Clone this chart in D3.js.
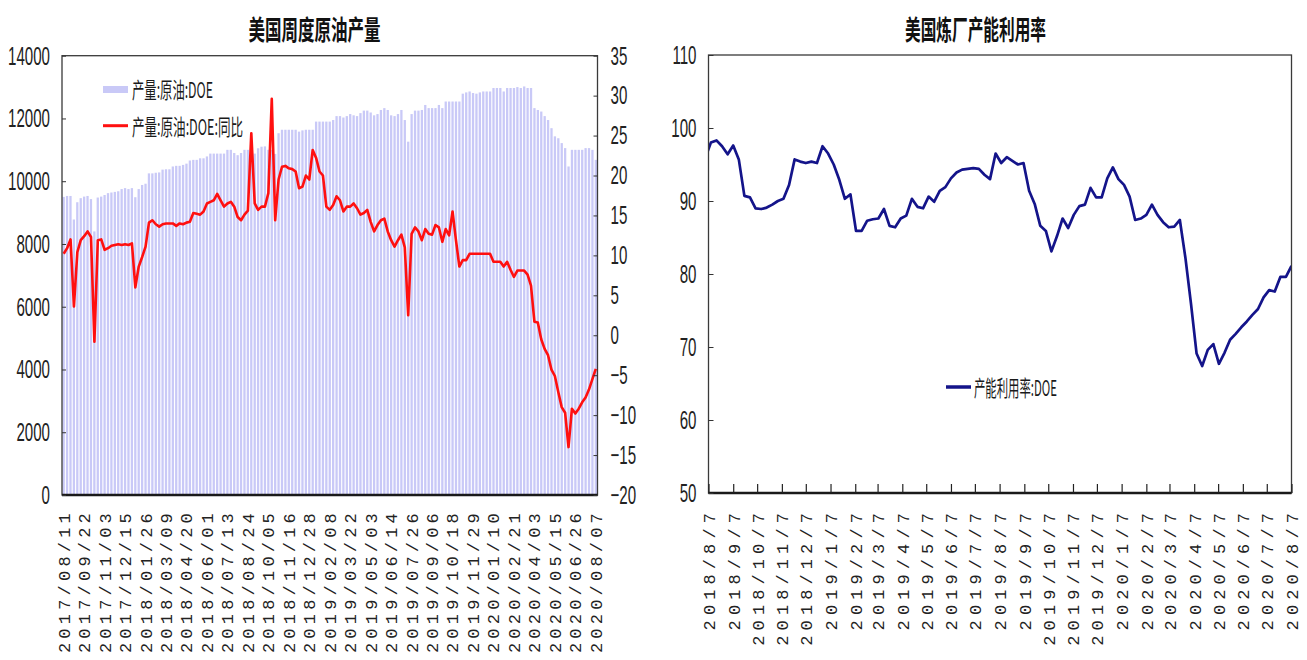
<!DOCTYPE html>
<html>
<head>
<meta charset="utf-8">
<script src="https://cdn.jsdelivr.net/npm/d3@7"></script>
<style>
  body { margin: 0; background: #fff; }
  svg { display: block; }
</style>
</head>
<body>
<svg id="chart" width="1307" height="660"></svg>
<script>
// ---- US weekly crude oil production (thousand b/d), weeks from 2017/08/11 ----
const crudeStart = new Date(2017, 7, 11);
const crudeOutput = [
  9500, 9530, 9530, 8780, 9330, 9460, 9510, 9530, 9430, 8400,
  9480, 9510, 9560, 9620, 9640, 9660, 9680, 9750, 9780, 9750,
  9780, 9490, 9750, 9880, 9920, 10250, 10250, 10270, 10280, 10370,
  10380, 10380, 10470, 10490, 10490, 10520, 10560, 10660, 10680, 10680,
  10730, 10730, 10790, 10880, 10880, 10880, 10880, 10880, 11000, 11000,
  10900, 10830, 10900, 11000, 11000, 11000, 10880, 11050, 11100, 11110,
  11000, 11000, 10870, 11530, 11640, 11640, 11640, 11640, 11640, 11580,
  11620, 11640, 11640, 11640, 11900, 11900, 11900, 11900, 11900, 11950,
  12075, 12075, 12030, 12075, 12140, 12100, 12075, 12170, 12250, 12250,
  12190, 12100, 12140, 12270, 12330, 12270, 12100, 12075, 12140, 12270,
  11950, 11260, 12140, 12250, 12250, 12270, 12430, 12330, 12330, 12330,
  12430, 12330, 12540, 12540, 12540, 12540, 12540, 12790, 12830, 12860,
  12810, 12790, 12830, 12860, 12860, 12860, 12970, 12970, 12970, 12860,
  12970, 12970, 12970, 13000, 12970, 13020, 12970, 12970, 12330, 12270,
  12220, 12075, 11950, 11690, 11430, 11370, 11215, 11055, 10470, 11000,
  11000, 11000, 11000, 11055, 11055, 11000, 10680
];
// year-on-year change of the same series (%)
const crudeYoY = [
  10.2, 10.9, 12.0, 3.6, 10.4, 11.9, 12.4, 13.0, 12.3, -0.8,
  11.9, 12.0, 10.7, 10.9, 11.2, 11.3, 11.4, 11.3, 11.4, 11.3,
  11.5, 6.0, 8.6, 9.8, 11.1, 14.1, 14.4, 13.9, 13.6, 13.9,
  14.0, 14.0, 14.0, 13.7, 14.0, 13.9, 14.1, 14.2, 15.3, 15.2,
  15.1, 15.5, 16.5, 16.7, 16.9, 17.7, 16.9, 16.1, 16.5, 16.7,
  16.1, 14.8, 14.4, 15.1, 15.6, 25.3, 16.5, 15.7, 16.1, 16.1,
  17.8, 29.6, 14.4, 19.5, 21.1, 21.2, 20.9, 20.8, 20.5, 18.4,
  18.6, 20.0, 19.5, 23.2, 22.2, 20.5, 20.0, 16.1, 15.7, 16.3,
  17.4, 16.9, 15.5, 16.1, 16.1, 16.5, 15.9, 15.1, 15.3, 15.7,
  14.2, 13.0, 13.8, 14.4, 14.6, 13.0, 11.9, 11.1, 11.9, 12.6,
  11.0, 2.5, 12.7, 13.5, 13.0, 11.9, 13.3, 12.7, 12.6, 13.8,
  13.5, 11.7, 13.3, 12.5, 15.5, 11.9, 8.6, 9.4, 9.4, 10.2,
  10.2, 10.2, 10.2, 10.2, 10.2, 10.2, 9.2, 9.2, 9.2, 8.6,
  9.2, 8.2, 7.3, 8.1, 8.1, 8.1, 7.6, 6.2, 1.7, 1.6,
  -0.5, -1.7, -2.5, -4.3, -5.1, -7.1, -9.0, -9.7, -14.0, -9.2,
  -9.8, -9.2, -8.4, -7.8, -6.8, -5.5, -4.2
];
const crudeLabelEvery = 6;
const outputTicks = [0, 2000, 4000, 6000, 8000, 10000, 12000, 14000];
const yoyTicks = [-20, -15, -10, -5, 0, 5, 10, 15, 20, 25, 30, 35];

// ---- US refinery utilisation (%), weeks from 2018/08/03 ----
const utilStart = new Date(2018, 7, 3);
const refineryUtil = [
  95.9, 98.0, 98.3, 97.5, 96.4, 97.6, 95.7, 90.7, 90.5, 89.0,
  88.9, 89.1, 89.5, 90.0, 90.3, 92.2, 95.7, 95.4, 95.2, 95.4,
  95.2, 97.5, 96.5, 95.0, 92.9, 90.3, 90.9, 85.9, 85.9, 87.3,
  87.5, 87.6, 88.9, 86.6, 86.4, 87.6, 88.0, 90.3, 89.2, 89.0,
  90.6, 89.9, 91.4, 91.9, 93.1, 93.9, 94.3, 94.4, 94.5, 94.4,
  93.6, 93.0, 96.5, 95.2, 96.0, 95.5, 95.0, 95.2, 91.4, 89.6,
  86.6, 85.9, 83.1, 85.2, 87.6, 86.3, 88.1, 89.3, 89.5, 91.8,
  90.5, 90.5, 93.1, 94.6, 93.0, 92.2, 90.6, 87.4, 87.6, 88.1,
  89.5, 88.1, 87.1, 86.4, 86.5, 87.4, 82.2, 75.9, 69.1, 67.4,
  69.6, 70.4, 67.7, 69.2, 71.0, 71.8, 72.7, 73.5, 74.4, 75.2,
  76.8, 77.8, 77.6, 79.6, 79.6, 81.1
];
const utilDomain = [new Date(2018, 7, 7), new Date(2020, 7, 7)];
const utilTicks = [50, 60, 70, 80, 90, 100, 110];

// ---- shared styling ----
const NUM_FONT = "'Liberation Sans', Arial, sans-serif";
const CJK_FONT = "'Noto Sans CJK SC', 'Noto Sans', sans-serif";
const DATE_FONT = "'Liberation Mono', 'DejaVu Sans Mono', monospace";
const NUM_SQUEEZE = 0.58;
const BAR_COLOR = "#c9c9f7";
const RED = "#ff1010";
const NAVY = "#14148a";

const svg = d3.select("#chart");

// Narrow the numeric tick labels horizontally while keeping their anchor
function squeezeNumbers(g) {
  g.selectAll(".tick text").each(function () {
    const t = d3.select(this);
    const x = +t.attr("x") || 0;
    t.attr("x", x / NUM_SQUEEZE)
     .attr("transform", `scale(${NUM_SQUEEZE},1)`)
     .attr("font-family", NUM_FONT)
     .attr("font-size", 26)
     .attr("fill", "#222");
  });
}

// Vertical date labels hanging under the axis
function rotateDates(g, spacing, offset) {
  g.selectAll(".tick text")
    .attr("font-family", DATE_FONT)
    .attr("font-size", 17)
    .attr("letter-spacing", spacing)
    .attr("fill", "#222")
    .attr("text-anchor", "end")
    .attr("transform", "rotate(-90)")
    .attr("x", -offset)
    .attr("y", 0)
    .attr("dy", "0.35em");
}

function frame(box, gParent) {
  gParent.append("rect")
    .attr("x", box.x0).attr("y", box.y0)
    .attr("width", box.x1 - box.x0).attr("height", box.y1 - box.y0)
    .attr("fill", "none").attr("stroke", "#3a3a3a").attr("stroke-width", 1.3);
  gParent.append("line")
    .attr("x1", box.x0).attr("x2", box.x1)
    .attr("y1", box.y1).attr("y2", box.y1)
    .attr("stroke", "#1a1a1a").attr("stroke-width", 2.4);
}

function title(text, cx, width) {
  svg.append("text")
    .attr("x", cx).attr("y", 40)
    .attr("text-anchor", "middle")
    .attr("font-family", CJK_FONT).attr("font-size", 27)
    .attr("font-weight", 700)
    .attr("textLength", width).attr("lengthAdjust", "spacingAndGlyphs")
    .attr("fill", "#111")
    .text(text);
}

function legendText(g, text, x, y, width) {
  g.append("text")
    .attr("x", x).attr("y", y)
    .attr("font-family", CJK_FONT).attr("font-size", 22)
    .attr("textLength", width).attr("lengthAdjust", "spacingAndGlyphs")
    .attr("fill", "#1a1a1a")
    .text(text);
}

// ================= left: crude production =================
const L = { x0: 62, x1: 597.5, y0: 55.7, y1: 495 };
const crudeDates = crudeOutput.map((_, i) => d3.timeDay.offset(crudeStart, 7 * i));

const xL = d3.scaleBand().domain(crudeDates).range([L.x0, L.x1]).paddingInner(0.33).paddingOuter(0.15);
const xStep = d3.scaleBand().domain(crudeDates).range([L.x0, L.x1]);
const yL = d3.scaleLinear().domain([0, 14000]).range([L.y1, L.y0]);
const yR = d3.scaleLinear().domain([-20, 35]).range([L.y1, L.y0]);

const left = svg.append("g");

left.append("g").selectAll("rect")
  .data(crudeOutput)
  .join("rect")
  .attr("x", (d, i) => xL(crudeDates[i]))
  .attr("width", xL.bandwidth())
  .attr("y", d => yL(d))
  .attr("height", d => yL(0) - yL(d))
  .attr("fill", BAR_COLOR);

const yoyLine = d3.line()
  .x((d, i) => xStep(crudeDates[i]) + xStep.bandwidth() / 2)
  .y(d => yR(d));

left.append("path")
  .datum(crudeYoY)
  .attr("d", yoyLine)
  .attr("fill", "none")
  .attr("stroke", RED)
  .attr("stroke-width", 2.6)
  .attr("stroke-linejoin", "round");

frame(L, left);

const axL = left.append("g")
  .attr("transform", `translate(${L.x0},0)`)
  .call(d3.axisLeft(yL).tickValues(outputTicks).tickSize(-4).tickPadding(12).tickFormat(d3.format("d")));
axL.select(".domain").remove();
axL.selectAll(".tick line").attr("stroke", "#333");
squeezeNumbers(axL);

const axR = left.append("g")
  .attr("transform", `translate(${L.x1},0)`)
  .call(d3.axisRight(yR).tickValues(yoyTicks).tickSize(-4).tickPadding(13).tickFormat(d3.format("d")));
axR.select(".domain").remove();
axR.selectAll(".tick line").attr("stroke", "#333");
squeezeNumbers(axR);

const axB = left.append("g")
  .attr("transform", `translate(0,${L.y1})`)
  .call(d3.axisBottom(xStep)
    .tickValues(crudeDates.filter((d, i) => i % crudeLabelEvery === 0))
    .tickSize(0)
    .tickFormat(d3.timeFormat("%Y/%m/%d")));
axB.select(".domain").remove();
rotateDates(axB, 4.2, 14);

// legend
const legL = left.append("g");
legL.append("rect").attr("x", 103).attr("y", 86).attr("width", 25).attr("height", 7).attr("fill", BAR_COLOR);
legendText(legL, "产量:原油:DOE", 132, 97.5, 81);
legL.append("line").attr("x1", 103).attr("x2", 128).attr("y1", 125.7).attr("y2", 125.7)
  .attr("stroke", RED).attr("stroke-width", 3);
legendText(legL, "产量:原油:DOE:同比", 132, 135, 111);

title("美国周度原油产量", 314.5, 132);

// ================= right: refinery utilisation =================
const R = { x0: 708.5, x1: 1291.5, y0: 55, y1: 493 };
const utilDates = refineryUtil.map((_, i) => d3.timeDay.offset(utilStart, 7 * i));

const xT = d3.scaleTime().domain(utilDomain).range([R.x0, R.x1]);
const yU = d3.scaleLinear().domain([50, 110]).range([R.y1, R.y0]);

const right = svg.append("g");

right.append("clipPath").attr("id", "utilClip")
  .append("rect").attr("x", R.x0).attr("y", R.y0)
  .attr("width", R.x1 - R.x0).attr("height", R.y1 - R.y0);

right.append("path")
  .datum(refineryUtil)
  .attr("clip-path", "url(#utilClip)")
  .attr("d", d3.line().x((d, i) => xT(utilDates[i])).y(d => yU(d)))
  .attr("fill", "none")
  .attr("stroke", NAVY)
  .attr("stroke-width", 2.7)
  .attr("stroke-linejoin", "round");

frame(R, right);

const axU = right.append("g")
  .attr("transform", `translate(${R.x0},0)`)
  .call(d3.axisLeft(yU).tickValues(utilTicks).tickSize(-5).tickPadding(12).tickFormat(d3.format("d")));
axU.select(".domain").remove();
axU.selectAll(".tick line").attr("stroke", "#333");
squeezeNumbers(axU);

const monthTicks = d3.timeMonth.range(new Date(2018, 7, 1), new Date(2020, 8, 1))
  .map(d => d3.timeDay.offset(d, 6));
const axT = right.append("g")
  .attr("transform", `translate(0,${R.y1})`)
  .call(d3.axisBottom(xT).tickValues(monthTicks).tickSizeInner(-9).tickSizeOuter(0)
    .tickFormat(d3.timeFormat("%Y/%-m/%-d")));
axT.select(".domain").remove();
axT.selectAll(".tick line").attr("stroke", "#222").attr("stroke-width", 1.2);
rotateDates(axT, 5.1, 15);

const legR = right.append("g");
legR.append("line").attr("x1", 946).attr("x2", 971).attr("y1", 387).attr("y2", 387)
  .attr("stroke", NAVY).attr("stroke-width", 3.5);
legendText(legR, "产能利用率:DOE", 974, 396, 83);

title("美国炼厂产能利用率", 975.5, 141);
</script>
</body>
</html>
